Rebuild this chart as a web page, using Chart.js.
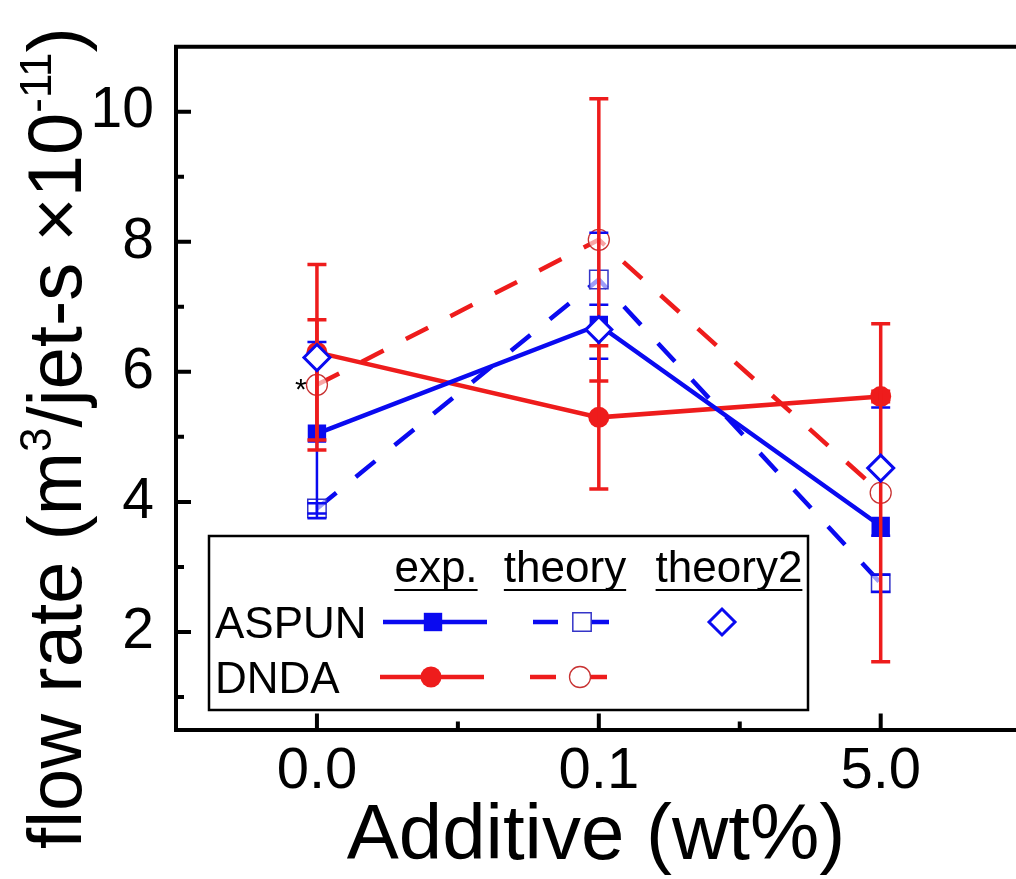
<!DOCTYPE html>
<html>
<head>
<meta charset="utf-8">
<script src="https://cdn.jsdelivr.net/npm/chart.js@4.4.1/dist/chart.umd.min.js"></script>
<style>
    html, body { margin: 0; padding: 0; background: #fff; overflow: hidden; }
    canvas { display: block; }
</style>
</head>
<body>
<canvas id="grafico" width="1016" height="879"></canvas>
<script>
/* Flow rate vs additive - ASPUN / DNDA */

// Dados
const categorias = ['0.0', '0.1', '5.0'];
const yTicks = [2, 4, 6, 8, 10];
const yTicksMenores = [1, 3, 5, 7, 9];
const xTicksMenores = [0.5, 1.5];

const aspunExp = [5.05, 6.72, 3.63];
const aspunExpErrSup = [1.41, 0.31, 1.82];
const aspunExpErrInf = [1.30, 0.52, 0.15];
const aspunTheory = [3.90, 7.42, 2.75];
const aspunTheoryErr = [0.08, 0.72, 0.13];
const aspunTheory2 = [6.22, 6.65, 4.52];
const dndaExp = [6.30, 5.30, 5.62];
const dndaExpErr = [1.35, 1.10, 0.08];
const dndaTheory = [5.80, 8.03, 4.14];
const dndaTheoryErr = [1.00, 2.17, 2.60];

const AZUL = '#0a0af0';
const VERMELHO = '#ee1c1c';
const FONTE = '"Liberation Sans", Arial, sans-serif';
const TRACO = [25, 25];

const pontos = arr => arr.map((v, i) => ({ x: i, y: v }));

// Barras de erro (azul primeiro, vermelho por cima)
const barrasErro = [
    { valores: aspunExp, sup: aspunExpErrSup, inf: aspunExpErrInf, cor: AZUL, lw: 2.5 },
    { valores: aspunTheory, sup: aspunTheoryErr, inf: aspunTheoryErr, cor: AZUL, lw: 2.5 },
    { valores: dndaExp, sup: dndaExpErr, inf: dndaExpErr, cor: VERMELHO, lw: 3.5 },
    { valores: dndaTheory, sup: dndaTheoryErr, inf: dndaTheoryErr, cor: VERMELHO, lw: 3.5 }
];

function desenharMarcador(ctx, tipo, x, y, r) {
    ctx.beginPath();
    if (tipo === 'rect') {
        const s = r * Math.SQRT1_2;
        ctx.rect(x - s, y - s, 2 * s, 2 * s);
    } else if (tipo === 'circle') {
        ctx.arc(x, y, r, 0, Math.PI * 2);
    } else {
        ctx.moveTo(x - r, y);
        ctx.lineTo(x, y - r);
        ctx.lineTo(x + r, y);
        ctx.lineTo(x, y + r);
        ctx.closePath();
    }
}

const pluginErros = {
    id: 'barrasErro',
    beforeDatasetDraw(chart, args) {
        // desenhar antes dos losangos (dataset 0 é o último a ser desenhado)
        if (args.index !== 0) return;
        const { ctx } = chart;
        const x = chart.scales.x, y = chart.scales.y;
        ctx.save();
        barrasErro.forEach(b => {
            ctx.strokeStyle = b.cor;
            ctx.lineWidth = b.lw;
            b.valores.forEach((v, i) => {
                const px = x.getPixelForValue(i);
                const topo = y.getPixelForValue(v + b.sup[i]);
                const base = y.getPixelForValue(v - b.inf[i]);
                ctx.beginPath();
                ctx.moveTo(px, topo); ctx.lineTo(px, base);
                ctx.moveTo(px - 9.5, topo); ctx.lineTo(px + 9.5, topo);
                ctx.moveTo(px - 9.5, base); ctx.lineTo(px + 9.5, base);
                ctx.stroke();
            });
        });
        ctx.restore();
    }
};

const pluginMoldura = {
    id: 'moldura',
    afterDraw(chart) {
        const { ctx, chartArea: a } = chart;
        const x = chart.scales.x, y = chart.scales.y;
        ctx.save();
        ctx.strokeStyle = '#000';
        ctx.lineWidth = 4;

        // borda superior
        ctx.beginPath();
        ctx.moveTo(a.left - 2, a.top);
        ctx.lineTo(a.right, a.top);
        ctx.stroke();

        // ticks para dentro
        ctx.beginPath();
        categorias.forEach((c, i) => {
            const px = x.getPixelForValue(i);
            ctx.moveTo(px, a.bottom); ctx.lineTo(px, a.bottom - 16);
        });
        xTicksMenores.forEach(v => {
            const px = x.getPixelForValue(v);
            ctx.moveTo(px, a.bottom); ctx.lineTo(px, a.bottom - 8);
        });
        yTicks.forEach(v => {
            const py = y.getPixelForValue(v);
            ctx.moveTo(a.left, py); ctx.lineTo(a.left + 15, py);
        });
        yTicksMenores.forEach(v => {
            const py = y.getPixelForValue(v);
            ctx.moveTo(a.left, py); ctx.lineTo(a.left + 8, py);
        });
        ctx.stroke();

        // asterisco ao lado do círculo aberto em 0.0
        ctx.fillStyle = '#000';
        ctx.font = '30px ' + FONTE;
        ctx.textAlign = 'center';
        ctx.textBaseline = 'alphabetic';
        ctx.fillText('*', x.getPixelForValue(0) - 16, y.getPixelForValue(dndaTheory[0]) + 14);

        // título do eixo y com sobrescritos
        const partes = [
            { t: 'flow rate (m', sup: false },
            { t: '3', sup: true },
            { t: '/jet-s \u00d710', sup: false },
            { t: '-11', sup: true },
            { t: ')', sup: false }
        ];
        const fonteGrande = '76px ' + FONTE;
        const fontePequena = '44px ' + FONTE;
        let total = 0;
        partes.forEach(p => {
            ctx.font = p.sup ? fontePequena : fonteGrande;
            p.w = ctx.measureText(p.t).width;
            total += p.w;
        });
        ctx.translate(81, 438);
        ctx.rotate(-Math.PI / 2);
        ctx.textAlign = 'left';
        let cx = -total / 2;
        partes.forEach(p => {
            ctx.font = p.sup ? fontePequena : fonteGrande;
            ctx.fillText(p.t, cx, p.sup ? -30 : 0);
            cx += p.w;
        });
        ctx.restore();

        // legenda
        ctx.save();
        ctx.fillStyle = '#fff';
        ctx.fillRect(209, 536, 599, 174);
        ctx.strokeStyle = '#000';
        ctx.lineWidth = 2.5;
        ctx.strokeRect(209, 536, 599, 174);

        ctx.fillStyle = '#000';
        ctx.font = '44px ' + FONTE;
        ctx.textBaseline = 'alphabetic';
        ctx.textAlign = 'center';
        ctx.lineWidth = 2;
        [['exp.', 436], ['theory', 565], ['theory2', 729]].forEach(([t, cxh]) => {
            ctx.fillText(t, cxh, 582);
            const w = ctx.measureText(t).width;
            ctx.beginPath();
            ctx.moveTo(cxh - w / 2, 590); ctx.lineTo(cxh + w / 2, 590);
            ctx.stroke();
        });
        ctx.textAlign = 'left';
        ctx.fillText('ASPUN', 215, 638);
        ctx.fillText('DNDA', 215, 693);

        // amostras
        const linha = (cor, x1, x2, yy) => {
            ctx.strokeStyle = cor; ctx.lineWidth = 4.5;
            ctx.beginPath(); ctx.moveTo(x1, yy); ctx.lineTo(x2, yy); ctx.stroke();
        };
        linha(AZUL, 383, 487, 622);
        ctx.fillStyle = AZUL;
        desenharMarcador(ctx, 'rect', 433, 622, 13); ctx.fill();

        linha(AZUL, 533, 558, 622);
        linha(AZUL, 591, 609, 622);
        ctx.fillStyle = '#fff'; ctx.strokeStyle = '#3434c8'; ctx.lineWidth = 1.5;
        desenharMarcador(ctx, 'rect', 582, 622, 13); ctx.fill(); ctx.stroke();

        ctx.fillStyle = '#fff'; ctx.strokeStyle = AZUL; ctx.lineWidth = 3;
        desenharMarcador(ctx, 'rectRot', 722, 622, 13); ctx.fill(); ctx.stroke();

        linha(VERMELHO, 380, 484, 677);
        ctx.fillStyle = VERMELHO;
        desenharMarcador(ctx, 'circle', 431, 677, 10.5); ctx.fill();

        linha(VERMELHO, 530, 556, 677);
        linha(VERMELHO, 590, 607, 677);
        ctx.fillStyle = '#fff'; ctx.strokeStyle = '#c83232'; ctx.lineWidth = 1.3;
        desenharMarcador(ctx, 'circle', 580, 677, 10.5); ctx.fill(); ctx.stroke();
        ctx.restore();
    }
};

// sem margens extras para os rótulos das pontas
const semPadding = s => {
    s.paddingLeft = 0; s.paddingRight = 0;
    s.paddingTop = 0; s.paddingBottom = 0;
};

new Chart(document.getElementById('grafico'), {
    type: 'line',
    data: {
        datasets: [
            {
                label: 'ASPUN theory2',
                data: pontos(aspunTheory2),
                showLine: false,
                pointStyle: 'rectRot',
                pointRadius: 13,
                pointBorderWidth: 3,
                pointBackgroundColor: '#fff',
                pointBorderColor: AZUL
            },
            {
                label: 'ASPUN exp.',
                data: pontos(aspunExp),
                borderColor: AZUL,
                borderWidth: 4.5,
                pointStyle: 'rect',
                pointRadius: 13,
                pointBorderWidth: 0,
                pointBackgroundColor: AZUL
            },
            {
                label: 'ASPUN theory',
                data: pontos(aspunTheory),
                borderColor: AZUL,
                borderWidth: 4.5,
                borderDash: TRACO,
                pointStyle: 'rect',
                pointRadius: 13,
                pointBorderWidth: 1.5,
                pointBorderColor: '#3434c8',
                pointBackgroundColor: 'rgba(255,255,255,0.6)'
            },
            {
                label: 'DNDA exp.',
                data: pontos(dndaExp),
                borderColor: VERMELHO,
                borderWidth: 4.5,
                pointStyle: 'circle',
                pointRadius: 10.5,
                pointBorderWidth: 0,
                pointBackgroundColor: VERMELHO
            },
            {
                label: 'DNDA theory',
                data: pontos(dndaTheory),
                borderColor: VERMELHO,
                borderWidth: 4.5,
                borderDash: TRACO,
                pointStyle: 'circle',
                pointRadius: 10.5,
                pointBorderWidth: 1.3,
                pointBorderColor: '#c83232',
                pointBackgroundColor: 'rgba(255,255,255,0.6)'
            }
        ]
    },
    options: {
        responsive: false,
        animation: false,
        layout: { autoPadding: false, padding: { top: 46.7, right: 0, bottom: 0, left: 0 } },
        plugins: {
            legend: { display: false },
            tooltip: { enabled: false }
        },
        scales: {
            x: {
                type: 'linear',
                min: -0.5,
                max: 2.48,
                grid: { display: true, drawOnChartArea: false, drawTicks: false },
                border: { display: true, width: 4, color: '#000' },
                afterBuildTicks: s => { s.ticks = categorias.map((c, i) => ({ value: i })); },
                afterFit: s => { s.height = 149.5; semPadding(s); },
                ticks: {
                    autoSkip: false,
                    maxRotation: 0,
                    padding: 8,
                    color: '#000',
                    font: { family: FONTE, size: 58 },
                    callback: v => categorias[v]
                },
                title: {
                    display: true,
                    text: 'Additive (wt%)',
                    color: '#000',
                    font: { family: FONTE, size: 78, lineHeight: 1 },
                    padding: { top: 0, bottom: 3 }
                }
            },
            y: {
                min: 0.5,
                max: 11,
                grid: { display: true, drawOnChartArea: false, drawTicks: false },
                border: { display: true, width: 4, color: '#000' },
                afterBuildTicks: s => { s.ticks = yTicks.map(v => ({ value: v })); },
                afterFit: s => { s.width = 176; semPadding(s); },
                ticks: {
                    padding: 22,
                    color: '#000',
                    font: { family: FONTE, size: 57 }
                }
            }
        }
    },
    plugins: [pluginErros, pluginMoldura]
});
</script>
</body>
</html>
